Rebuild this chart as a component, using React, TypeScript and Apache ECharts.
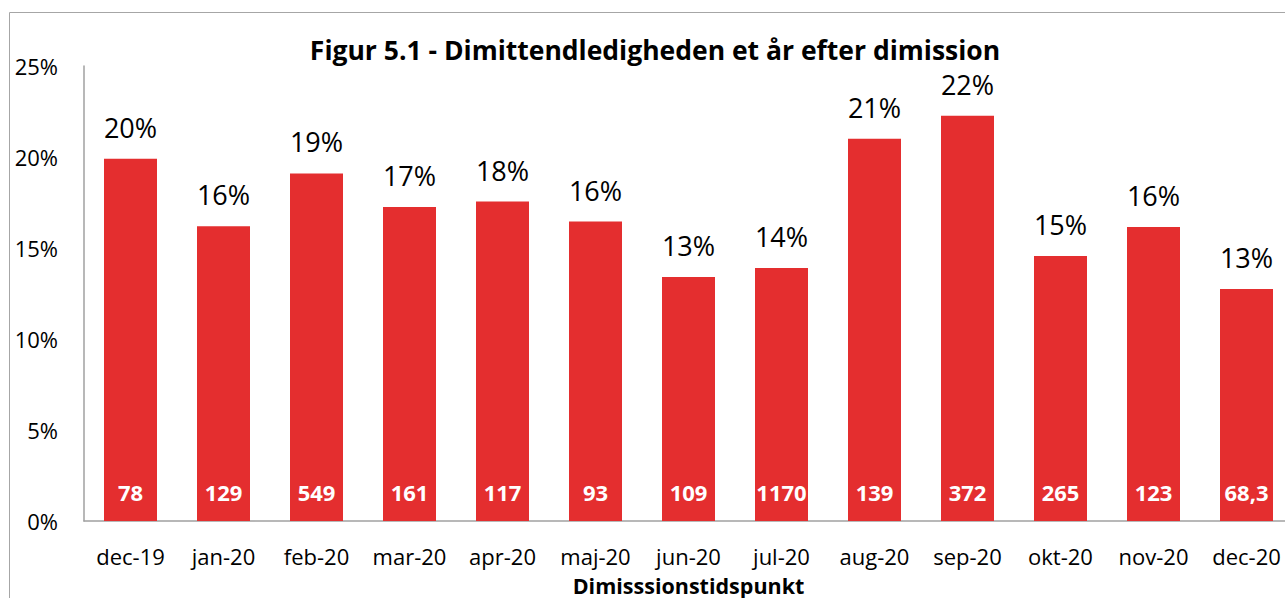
import React, { useEffect, useRef } from "react";
import * as echarts from "echarts";

const categories = ["dec-19", "jan-20", "feb-20", "mar-20", "apr-20", "maj-20", "jun-20", "jul-20", "aug-20", "sep-20", "okt-20", "nov-20", "dec-20"];
const rates = [19.9, 16.2, 19.1, 17.25, 17.55, 16.45, 13.4, 13.9, 21.0, 22.27, 14.56, 16.15, 12.75];
const counts = ["78", "129", "549", "161", "117", "93", "109", "1170", "139", "372", "265", "123", "68,3"];
const yTicks = [0, 5, 10, 15, 20, 25];

const FONT = "'Open Sans', 'Noto Sans', sans-serif";
const RED = "#e42e2f";

export default function App() {
  const ref = useRef<HTMLDivElement>(null);
  useEffect(() => {
    if (!ref.current) return;
    const chart = echarts.init(ref.current, undefined, { renderer: "svg" });
    chart.setOption({
      animation: false,
      backgroundColor: "#ffffff",
      textStyle: { fontFamily: FONT },
      title: {
        text: "Figur 5.1 - Dimittendledigheden et år efter dimission",
        left: 650,
        textAlign: "center",
        top: 31,
        textStyle: { fontFamily: FONT, fontSize: 26.5, fontWeight: "bold", color: "#000" },
      },
      graphic: [
        {
          type: "rect",
          shape: { x: 9.5, y: 12.5, width: 1400, height: 700 },
          style: { fill: "none", stroke: "#a6a6a6", lineWidth: 1 },
          silent: true,
        },
      ],
      grid: { left: 84, top: 66, width: 1209, height: 455, outerBoundsMode: "none", containLabel: false },
      xAxis: {
        type: "category",
        data: categories,
        name: "Dimisssionstidspunkt",
        nameLocation: "middle",
        nameGap: 53,
        nameTextStyle: { fontFamily: FONT, fontSize: 21.5, fontWeight: "bold", color: "#000" },
        axisLine: { lineStyle: { color: "#a0a0a0", width: 1.5 } },
        axisTick: { show: false },
        axisLabel: { fontFamily: FONT, fontSize: 22, color: "#000", margin: 24, interval: 0 },
      },
      yAxis: {
        type: "value",
        min: yTicks[0],
        max: yTicks[yTicks.length - 1],
        interval: 5,
        splitLine: { show: false },
        axisLine: { show: true, lineStyle: { color: "#a0a0a0", width: 1.5 } },
        axisTick: { show: false },
        axisLabel: { fontFamily: FONT, fontSize: 22, color: "#000", margin: 26, formatter: (v: number) => v + "%" },
      },
      series: [
        {
          type: "bar",
          data: rates,
          barWidth: 53,
          itemStyle: { color: RED },
          label: {
            show: true,
            position: "top",
            distance: 18,
            fontFamily: FONT,
            fontSize: 27,
            color: "#000",
            formatter: (p: any) => Math.round(p.value) + "%",
          },
        },
        {
          type: "bar",
          data: rates,
          barWidth: 53,
          barGap: "-100%",
          itemStyle: { color: "rgba(0,0,0,0)" },
          silent: true,
          label: {
            show: true,
            position: "insideBottom",
            distance: 18,
            fontFamily: FONT,
            fontSize: 22,
            fontWeight: "bold",
            color: "#fff",
            formatter: (p: any) => counts[p.dataIndex],
          },
        },
      ],
    });
    return () => chart.dispose();
  }, []);
  return <div ref={ref} style={{ position: "absolute", left: 0, top: 0, width: 1285, height: 598 }} />;
}
